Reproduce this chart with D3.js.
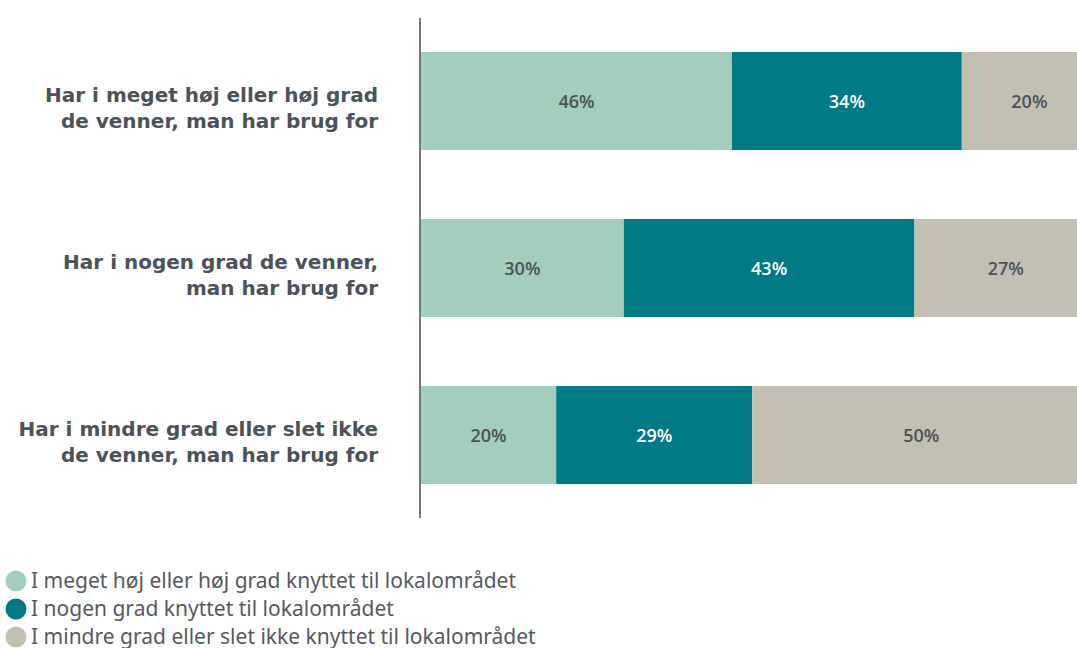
<!DOCTYPE html>
<html><head><meta charset="utf-8">
<script src="https://cdn.jsdelivr.net/npm/d3@7"></script>
<style>body{margin:0;background:#fff}svg{display:block}</style>
</head><body>
<svg id="c" width="1077" height="648"></svg>
<script>
const categories = [
  ["Har i meget høj eller høj grad", "de venner, man har brug for"],
  ["Har i nogen grad de venner,", "man har brug for"],
  ["Har i mindre grad eller slet ikke", "de venner, man har brug for"]
];
const seriesNames = [
  "I meget høj eller høj grad knyttet til lokalområdet",
  "I nogen grad knyttet til lokalområdet",
  "I mindre grad eller slet ikke knyttet til lokalområdet"
];
const highValues = [46, 30, 20];
const someValues = [34, 43, 29];
const lowValues = [20, 27, 50];
const colors = ["#a3cdbd", "#007a85", "#c3c0b3"];
const labelColors = ["#4b5258", "#ffffff", "#4b5258"];

const svg = d3.select("#c");
const x = d3.scaleLinear().domain([0, 100]).range([421, 1097]);
const y = d3.scaleBand().domain(d3.range(categories.length)).range([18, 518])
  .paddingInner(0.413).paddingOuter(0.2035);

const series = [highValues, someValues, lowValues];
const rows = categories.map((c, i) => {
  let acc = 0;
  return series.map((s, k) => { const d = {row: i, k, v: s[i], x0: acc}; acc += s[i]; d.x1 = acc; return d; });
});

const g = svg.append("g");
rows.forEach(r => {
  g.selectAll(null).data(r).enter().append("rect")
    .attr("x", d => x(d.x0)).attr("width", d => x(d.x1) - x(d.x0))
    .attr("y", d => y(d.row)).attr("height", y.bandwidth())
    .attr("fill", d => colors[d.k]);
  g.selectAll(null).data(r).enter().append("text")
    .attr("x", d => (x(d.x0) + x(d.x1)) / 2)
    .attr("y", d => y(d.row) + y.bandwidth() / 2 + 7)
    .attr("text-anchor", "middle")
    .attr("font-family", "'Open Sans'")
    .attr("font-weight", 600)
    .attr("font-size", 18)
    .attr("fill", d => labelColors[d.k])
    .text(d => d.v + "%");
});

// axis line
const yAxis = d3.axisLeft(y).tickSize(0).tickFormat("");
const ax = svg.append("g").attr("transform", "translate(420,0)").call(yAxis);
ax.select(".domain").attr("stroke", "#6e7880").attr("stroke-width", 2).attr("d", "M0,18V518");

// category labels
categories.forEach((lines, i) => {
  const cy = y(i) + y.bandwidth() / 2;
  const t = svg.append("text").attr("text-anchor", "end")
    .attr("font-family", "'DejaVu Sans'").attr("font-weight", "bold")
    .attr("font-size", 20).attr("fill", "#4b5258");
  lines.forEach((l, j) => {
    t.append("tspan").attr("x", 378).attr("y", cy + 1 + j * 26).text(l);
  });
});

// legend
const lg = svg.append("g");
seriesNames.forEach((n, i) => {
  const cy = 581 + i * 28;
  lg.append("circle").attr("cx", 16).attr("cy", cy).attr("r", 10.5).attr("fill", colors[i]);
  lg.append("text").attr("x", 31).attr("y", cy + 7)
    .attr("font-family", "'Noto Sans'").attr("font-size", 21).attr("fill", "#555a60")
    .text(n);
});
</script>
</body></html>
